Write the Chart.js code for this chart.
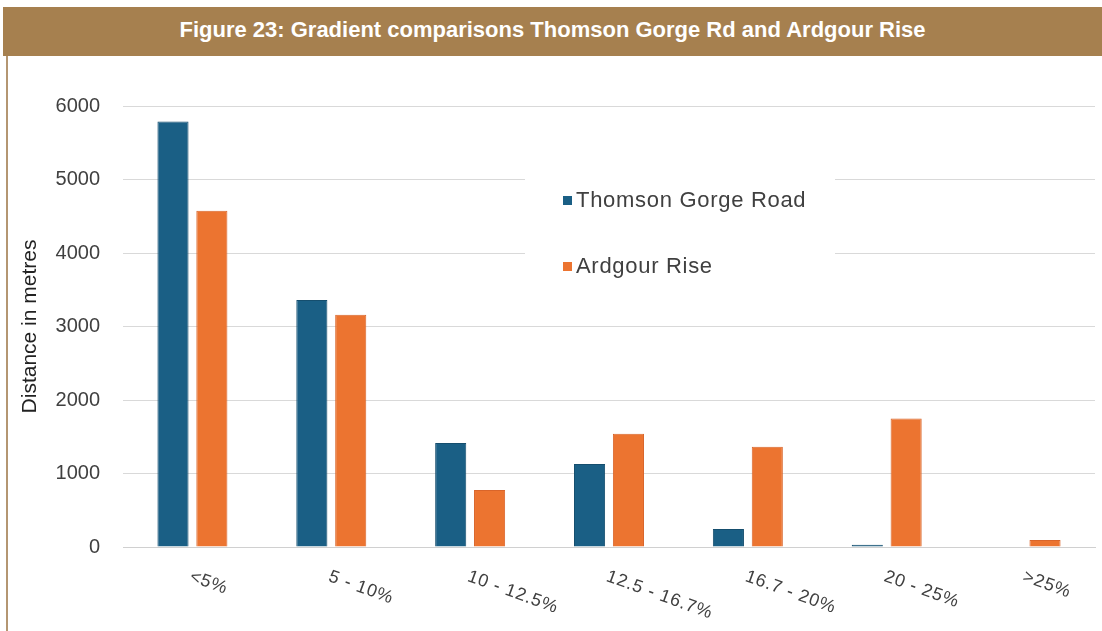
<!DOCTYPE html>
<html>
<head>
<meta charset="utf-8">
<script src="https://cdn.jsdelivr.net/npm/chart.js@4.4.1/dist/chart.umd.min.js"></script>
<style>
  html, body { margin: 0; padding: 0; background: #fff; }
  body { width: 1102px; height: 631px; position: relative; overflow: hidden; font-family: "Liberation Sans", Arial, sans-serif; }
  #frame { position: absolute; left: 6px; top: 8px; width: 1096px; height: 640px; border-left: 2px solid #b49672; }
  #title { position: absolute; left: 3px; top: 7px; width: 1099px; height: 49px; background: #a6804f; color: #fff;
           font: bold 22px "Liberation Sans", Arial, sans-serif; text-align: center; line-height: 46px; }
  #wrap { position: absolute; left: 10px; top: 58px; width: 1092px; height: 573px; }
</style>
</head>
<body>
<div id="frame"></div>
<div id="title">Figure 23: Gradient comparisons Thomson Gorge Rd and Ardgour Rise</div>
<div id="wrap"><canvas id="chart"></canvas></div>
<script>
// gradient bands
const categories = ['<5%', '5 - 10%', '10 - 12.5%', '12.5 - 16.7%', '16.7 - 20%', '20 - 25%', '>25%'];
// distance in metres per band
const thomsonGorge = [5790, 3360, 1415, 1130, 245, 30, 0];
const ardgourRise = [4575, 3160, 775, 1540, 1365, 1750, 95];
const yTicks = [0, 1000, 2000, 3000, 4000, 5000, 6000];

const textColor = '#404040';
const fontFamily = '"Liberation Sans", Arial, sans-serif';

// x labels tilted downwards, starting at the category centre
const tiltedLabels = {
    id: 'tiltedLabels',
    afterDraw(chart) {
        const { ctx, chartArea } = chart;
        const x = chart.scales.x;
        ctx.save();
        ctx.font = '18px ' + fontFamily;
        ctx.fillStyle = textColor;
        ctx.textAlign = 'left';
        ctx.textBaseline = 'middle';
        ctx.letterSpacing = '0.8px';
        x.ticks.forEach((t, i) => {
            ctx.save();
            ctx.translate(x.getPixelForTick(i) - 2, chartArea.bottom + 29);
            ctx.rotate(20 * Math.PI / 180);
            ctx.fillText(categories[i], 0, 0);
            ctx.restore();
        });
        ctx.restore();
    }
};

// legend sitting inside the plot, on a white patch over the grid
const boxLegend = {
    id: 'boxLegend',
    beforeDatasetsDraw(chart) {
        const ctx = chart.ctx;
        ctx.save();
        ctx.fillStyle = '#fff';
        ctx.fillRect(515, 107, 310, 130);
        ctx.font = '22px ' + fontFamily;
        ctx.textBaseline = 'middle';
        ctx.letterSpacing = '0.7px';
        chart.data.datasets.forEach((ds, i) => {
            const y = 143 + i * 66;
            ctx.fillStyle = ds.backgroundColor;
            ctx.fillRect(553, y - 5, 9, 9);
            ctx.fillStyle = textColor;
            ctx.fillText(ds.label, 566, y);
        });
        ctx.restore();
    }
};

new Chart(document.getElementById('chart'), {
    type: 'bar',
    data: {
        labels: categories,
        datasets: [
            {
                label: 'Thomson Gorge Road',
                data: thomsonGorge,
                backgroundColor: '#1a5f85',
                borderColor: '#154e6e',
                borderWidth: 1,
                barPercentage: 0.8,
                categoryPercentage: 0.56,
            },
            {
                label: 'Ardgour Rise',
                data: ardgourRise,
                backgroundColor: '#ec7430',
                borderColor: '#d9652a',
                borderWidth: 1,
                barPercentage: 0.8,
                categoryPercentage: 0.56,
            }
        ]
    },
    options: {
        responsive: true,
        maintainAspectRatio: false,
        animation: false,
        layout: { padding: { top: 48, right: 7, bottom: 76, left: 0 } },
        scales: {
            x: {
                grid: { display: false },
                border: { color: '#d0d0d0' },
                ticks: { display: false },
            },
            y: {
                min: 0,
                max: 6000,
                afterBuildTicks: (s) => { s.ticks = yTicks.map(v => ({ value: v })); },
                afterFit: (s) => { s.width = 113; },
                ticks: {
                    padding: 23,
                    color: textColor,
                    font: { size: 20, family: fontFamily },
                    callback: (v) => String(v),
                },
                grid: { color: '#d9d9d9', drawTicks: false },
                border: { display: false },
                title: {
                    display: true,
                    text: 'Distance in metres',
                    color: '#222',
                    font: { size: 21, family: fontFamily },
                    padding: { top: 8, bottom: 0 },
                },
            },
        },
        plugins: {
            legend: { display: false },
            tooltip: { enabled: false },
        }
    },
    plugins: [boxLegend, tiltedLabels]
});
</script>
</body>
</html>
